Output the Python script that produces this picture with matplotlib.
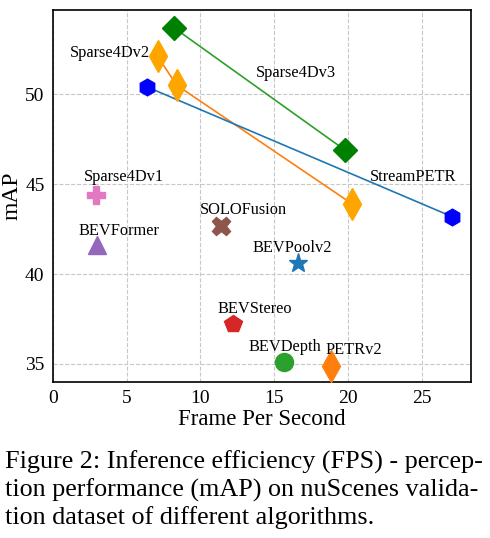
import matplotlib
matplotlib.use('Agg')
import matplotlib.pyplot as plt

plt.rcParams['font.family'] = ['Liberation Serif', 'DejaVu Serif']

# line-connected methods (FPS, mAP)
v3_fps = [8.2, 19.8]
v3_map = [53.7, 46.9]
v2_fps = [7.1, 8.4, 20.3]
v2_map = [52.1, 50.5, 43.9]
sp_fps = [6.4, 27.05]
sp_map = [50.4, 43.2]

# single-point methods
names = ['Sparse4Dv1', 'BEVFormer', 'SOLOFusion', 'BEVPoolv2', 'BEVStereo', 'BEVDepth', 'PETRv2']
fps = [2.9, 3.0, 11.4, 16.6, 12.2, 15.7, 18.85]
maps = [44.4, 41.6, 42.7, 40.6, 37.2, 35.1, 34.9]
markers = ['P', '^', 'X', '*', 'p', 'o', 'd']
colors = ['tab:pink', 'tab:purple', 'tab:brown', 'tab:blue', 'tab:red', 'tab:green', 'tab:orange']
sizes = [13, 13, 13, 14, 13, 13, 16]
label_pos = [(4.8, 45.4), (4.5, 42.4), (12.9, 43.55), (16.2, 41.45), (13.7, 38.05), (15.7, 35.95), (20.4, 35.8)]

fig = plt.figure(figsize=(4.9, 5.38), dpi=100)
ax = fig.add_axes([0.108, 0.29, 0.853, 0.691])

ax.plot(v3_fps, v3_map, color='tab:green', lw=1.2, zorder=2)
ax.plot(v3_fps, v3_map, 'D', color='green', ms=12, ls='none', zorder=3)
ax.plot(v2_fps, v2_map, color='tab:orange', lw=1.2, zorder=2)
ax.plot(v2_fps, v2_map, 'd', color='orange', ms=16, ls='none', zorder=3)
ax.plot(sp_fps, sp_map, color='tab:blue', lw=1.2, zorder=2)
ax.plot(sp_fps, sp_map, 'h', color='blue', ms=12, ls='none', zorder=3)

fs = 11.8
ax.text(16.5, 51.2, 'Sparse4Dv3', fontsize=fs, ha='center', va='center')
ax.text(6.6, 52.3, 'Sparse4Dv2', fontsize=fs, ha='right', va='center')
ax.text(24.4, 45.4, 'StreamPETR', fontsize=fs, ha='center', va='center')

for n, x, y, m, c, s, (lx, ly) in zip(names, fps, maps, markers, colors, sizes, label_pos):
    ax.plot(x, y, m, color=c, ms=s, zorder=3)
    ax.text(lx, ly, n, fontsize=fs, ha='center', va='center')

ax.set_xlim(0, 28.35)
ax.set_ylim(34, 54.67)
ax.set_xticks([0, 5, 10, 15, 20, 25])
ax.set_yticks([35, 40, 45, 50])
ax.tick_params(labelsize=14, length=0, pad=6)
ax.grid(True, ls='--', color='#c8c8c8', lw=0.8)
ax.set_axisbelow(True)
for sp in ax.spines.values():
    sp.set_linewidth(1.2)
ax.set_xlabel('Frame Per Second', fontsize=16.5, labelpad=1)
ax.set_ylabel('mAP', fontsize=17, labelpad=2)

caption = ('Figure 2: Inference efficiency (FPS) - percep-\n'
           'tion performance (mAP) on nuScenes valida-\n'
           'tion dataset of different algorithms.')
fig.text(0.01, 0.162, caption, fontsize=18.8, ha='left', va='top', linespacing=1.24)

fig.savefig('out.png', dpi=100)
